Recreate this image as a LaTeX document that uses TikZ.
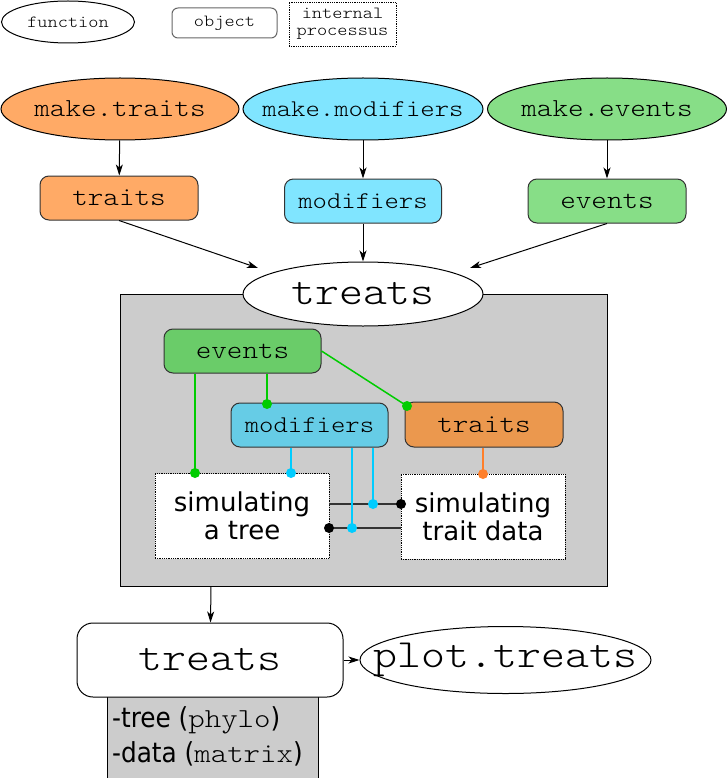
\documentclass[tikz,border=0pt]{standalone}
\usepackage{fontspec}
\setmainfont{DejaVu Sans}
\setmonofont[FakeStretch=1.14]{Latin Modern Mono Light}
\newfontfamily\condfont{DejaVu Sans Condensed}
\usetikzlibrary{shapes.geometric,arrows.meta}
\definecolor{orA}{HTML}{FFAA66}
\definecolor{cyA}{HTML}{80E5FF}
\definecolor{grA}{HTML}{87DE87}
\definecolor{orB}{HTML}{EB984E}
\definecolor{cyB}{HTML}{66CCE6}
\definecolor{grB}{HTML}{6ACC69}
\definecolor{grL}{HTML}{00CC00}
\definecolor{cyL}{HTML}{00CCFF}
\definecolor{orL}{HTML}{FF7F2A}
\definecolor{bd}{HTML}{333333}
\definecolor{gbox}{HTML}{CCCCCC}
\begin{document}
\begin{tikzpicture}[x=1pt,y=-1pt,
  func/.style={ellipse, draw=black, line width=1pt, inner sep=0pt},
  obj/.style={rectangle, rounded corners=9pt, draw=bd, line width=1pt, inner sep=0pt},
  proc/.style={rectangle, draw=black, densely dotted, line width=0.8pt, fill=white, inner sep=0pt, align=center},
  arr/.style={-{Stealth[length=11pt,width=7pt,inset=3pt]}, line width=1pt},
  tta/.style={font=\fontsize{26}{28}\selectfont\ttfamily},
  ttb/.style={font=\fontsize{24}{26}\selectfont\ttfamily},
  ttc/.style={font=\fontsize{40}{42}\selectfont\ttfamily},
  sf/.style={font=\fontsize{26}{28}\selectfont},
  cf/.style={font=\fontsize{27.5}{35}\selectfont\condfont, anchor=base west, inner sep=0pt},
  lk/.style={line width=1.5pt}
]
\useasboundingbox (0,0) rectangle (727,778);
% legend
\node[func, minimum width=133pt, minimum height=42pt] (lf) at (68,22) {};
\node[font=\fontsize{17}{19}\selectfont\ttfamily] (lft) at (lf) {function};
\node[obj, rounded corners=6pt, draw=black!60, minimum width=105pt, minimum height=30pt, font=\fontsize{17}{19}\selectfont\ttfamily] (lo) at (224.5,23) {object};
\node[proc, minimum width=107pt, minimum height=44pt, font=\fontsize{17}{17}\selectfont\ttfamily] (lp) at (342.5,24) {internal\\processus};
% top functions
\node[func, fill=orA, minimum width=238pt, minimum height=62pt] (mt) at (120,109) {};
\node[tta] (mtt) at (mt) {make.traits};
\node[func, fill=cyA, minimum width=240pt, minimum height=62pt] (mm) at (363,109) {};
\node[ttb] (mmt) at (mm) {make.modifiers};
\node[func, fill=grA, minimum width=239pt, minimum height=62pt] (me) at (607,109) {};
\node[tta] (met) at (me) {make.events};
% objects
\node[obj, fill=orA, minimum width=158pt, minimum height=44pt, tta] (tr) at (119,198) {traits};
\node[obj, fill=cyA, minimum width=157pt, minimum height=44pt, ttb] (mo) at (363,201) {modifiers};
\node[obj, fill=grA, minimum width=158pt, minimum height=44pt, tta] (ev) at (607,201) {events};
\draw[arr] (mt) -- (tr);
\draw[arr] (mm) -- (mo);
\draw[arr] (me) -- (ev);
% gray box
\node[rectangle, draw=black, line width=1pt, fill=gbox, minimum width=487pt, minimum height=292pt, inner sep=0pt] (gb) at (363.5,440) {};
\node[func, fill=white, minimum width=240pt, minimum height=64pt] (tc) at (363,294) {};
\node[ttc] (tct) at (tc) {treats};
\coordinate (a1) at (258,268);
\coordinate (a3) at (470,268);
\draw[arr] (tr.south) -- (a1);
\draw[arr] (mo) -- (tc);
\draw[arr] (ev.south) -- (a3);
% inner objects
\node[obj, fill=grB, minimum width=157pt, minimum height=44pt, tta] (iev) at (242.5,351) {events};
\node[obj, fill=cyB, minimum width=157pt, minimum height=44pt, ttb] (imo) at (309.5,425) {modifiers};
\node[obj, fill=orB, minimum width=158pt, minimum height=45pt, tta] (itr) at (484,424.5) {traits};
\node[proc, minimum width=174pt, minimum height=85pt, sf] (st) at (242,516) {simulating\\a tree};
\node[proc, minimum width=164pt, minimum height=85pt, sf] (sd) at (483,516.5) {simulating\\trait data};
% dot coordinates
\coordinate (g1) at (195,473);
\coordinate (g2) at (267,404);
\coordinate (g3) at (407,406);
\coordinate (c1) at (291,473);
\coordinate (c2) at (373,504);
\coordinate (c3) at (352,528);
\coordinate (o1) at (483,474);
\coordinate (b1) at (401,504);
\coordinate (b2) at (329,528);
% links
\draw[lk, bd] (st.east |- b1) -- (b1);
\draw[lk, bd] (b2) -- (sd.west |- b2);
\draw[lk, grL] (iev.south -| g1) -- (g1);
\draw[lk, grL] (iev.south -| g2) -- (g2);
\draw[lk, grL] (iev.east) -- (g3);
\draw[lk, cyL] (imo.south -| c1) -- (c1);
\draw[lk, cyL] (imo.south -| c2) -- (c2);
\draw[lk, cyL] (imo.south -| c3) -- (c3);
\draw[lk, orL] (itr.south -| o1) -- (o1);
\foreach \p in {g1,g2,g3} \fill[grL] (\p) circle (5pt);
\foreach \p in {c1,c2,c3} \fill[cyL] (\p) circle (5pt);
\fill[orL] (o1) circle (5pt);
\foreach \p in {b1,b2} \fill[black] (\p) circle (5pt);
% bottom
\node[rectangle, draw=black, line width=1pt, fill=gbox, minimum width=211pt, minimum height=84pt, inner sep=0pt] (gl) at (212.5,738) {};
\node[cf] (gt1) at (112,727) {-tree ({\ttfamily phylo})};
\node[cf] (gt2) at (112,762) {-data ({\ttfamily matrix})};
\node[obj, rounded corners=16pt, fill=white, draw=black, minimum width=266pt, minimum height=74pt, ttc] (tb) at (210,660) {treats};
\node[func, fill=white, minimum width=291pt, minimum height=67pt] (pt) at (505.5,660) {};
\node[ttc] (ptt) at (pt) {plot.treats};
\coordinate (ga) at (211,586);
\draw[arr] (ga) -- (tb);
\draw[arr] (tb) -- (pt);
\end{tikzpicture}
\end{document}
